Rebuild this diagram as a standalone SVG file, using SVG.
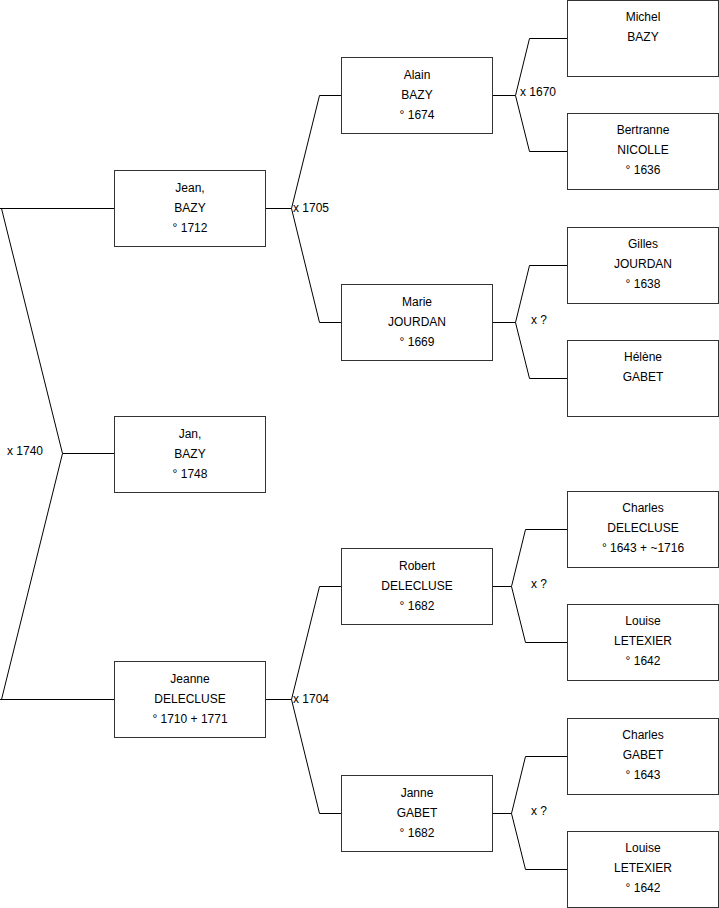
<svg xmlns="http://www.w3.org/2000/svg" width="719" height="908" viewBox="0 0 719 908">
<style>
.box{fill:#fff;stroke:#333;stroke-width:1}
.ln{fill:none;stroke:#000;stroke-width:1}
text{font-family:"Liberation Sans",Arial,sans-serif;font-size:12px;fill:#000}
.c{text-anchor:middle}
</style>
<rect width="719" height="908" fill="#fff"/>
<g id="connectors">
<path class="ln" d="M0,208.5 H114 M1.5,208.5 L62.5,453.5 L1.5,699.5 M0,699.5 H114 M62.5,453.5 H114"/>
<path class="ln" d="M265,208.5 H291.5 M319.5,95.5 L291.5,208.5 L319.5,322.5 M319.5,95.5 H341 M319.5,322.5 H341"/>
<path class="ln" d="M265,699.5 H291.5 M319.5,586.5 L291.5,699.5 L319.5,813.5 M319.5,586.5 H341 M319.5,813.5 H341"/>
<path class="ln" d="M492,95.5 H515.5 M529.5,38.5 L515.5,95.5 L529.5,151.5 M529.5,38.5 H567 M529.5,151.5 H567"/>
<path class="ln" d="M492,322.5 H515.5 M529.5,265.5 L515.5,322.5 L529.5,378.5 M529.5,265.5 H567 M529.5,378.5 H567"/>
<path class="ln" d="M492,586.5 H511.5 M525.5,529.5 L511.5,586.5 L525.5,642.5 M525.5,529.5 H567 M525.5,642.5 H567"/>
<path class="ln" d="M492,813.5 H511.5 M525.5,756.5 L511.5,813.5 L525.5,869.5 M525.5,756.5 H567 M525.5,869.5 H567"/>
<text x="7" y="455">x 1740</text>
<text x="293" y="212">x 1705</text>
<text x="293" y="703">x 1704</text>
<text x="520" y="96">x 1670</text>
<text x="531" y="324">x ?</text>
<text x="531" y="588">x ?</text>
<text x="531" y="815">x ?</text>
</g>
<g id="jean"><rect class="box" x="114.5" y="170.5" width="151" height="76"/><text class="c" x="190" y="192">Jean,</text><text class="c" x="190" y="212">BAZY</text><text class="c" x="190" y="232">° 1712</text></g>
<g id="jan"><rect class="box" x="114.5" y="416.5" width="151" height="76"/><text class="c" x="190" y="438">Jan,</text><text class="c" x="190" y="458">BAZY</text><text class="c" x="190" y="478">° 1748</text></g>
<g id="jeanne"><rect class="box" x="114.5" y="661.5" width="151" height="76"/><text class="c" x="190" y="683">Jeanne</text><text class="c" x="190" y="703">DELECLUSE</text><text class="c" x="190" y="723">° 1710 + 1771</text></g>
<g id="alain"><rect class="box" x="341.5" y="57.5" width="151" height="76"/><text class="c" x="417" y="79">Alain</text><text class="c" x="417" y="99">BAZY</text><text class="c" x="417" y="119">° 1674</text></g>
<g id="marie"><rect class="box" x="341.5" y="284.5" width="151" height="76"/><text class="c" x="417" y="306">Marie</text><text class="c" x="417" y="326">JOURDAN</text><text class="c" x="417" y="346">° 1669</text></g>
<g id="robert"><rect class="box" x="341.5" y="548.5" width="151" height="76"/><text class="c" x="417" y="570">Robert</text><text class="c" x="417" y="590">DELECLUSE</text><text class="c" x="417" y="610">° 1682</text></g>
<g id="janne"><rect class="box" x="341.5" y="775.5" width="151" height="76"/><text class="c" x="417" y="797">Janne</text><text class="c" x="417" y="817">GABET</text><text class="c" x="417" y="837">° 1682</text></g>
<g id="michel"><rect class="box" x="567.5" y="0.5" width="151" height="76"/><text class="c" x="643" y="21">Michel</text><text class="c" x="643" y="41">BAZY</text></g>
<g id="bertranne"><rect class="box" x="567.5" y="113.5" width="151" height="76"/><text class="c" x="643" y="134">Bertranne</text><text class="c" x="643" y="154">NICOLLE</text><text class="c" x="643" y="174">° 1636</text></g>
<g id="gilles"><rect class="box" x="567.5" y="227.5" width="151" height="76"/><text class="c" x="643" y="248">Gilles</text><text class="c" x="643" y="268">JOURDAN</text><text class="c" x="643" y="288">° 1638</text></g>
<g id="helene"><rect class="box" x="567.5" y="340.5" width="151" height="76"/><text class="c" x="643" y="361">Hélène</text><text class="c" x="643" y="381">GABET</text></g>
<g id="charles-delecluse"><rect class="box" x="567.5" y="491.5" width="151" height="76"/><text class="c" x="643" y="512">Charles</text><text class="c" x="643" y="532">DELECLUSE</text><text class="c" x="643" y="552">° 1643 + ~1716</text></g>
<g id="louise-1"><rect class="box" x="567.5" y="604.5" width="151" height="76"/><text class="c" x="643" y="625">Louise</text><text class="c" x="643" y="645">LETEXIER</text><text class="c" x="643" y="665">° 1642</text></g>
<g id="charles-gabet"><rect class="box" x="567.5" y="718.5" width="151" height="76"/><text class="c" x="643" y="739">Charles</text><text class="c" x="643" y="759">GABET</text><text class="c" x="643" y="779">° 1643</text></g>
<g id="louise-2"><rect class="box" x="567.5" y="831.5" width="151" height="76"/><text class="c" x="643" y="852">Louise</text><text class="c" x="643" y="872">LETEXIER</text><text class="c" x="643" y="892">° 1642</text></g>
</svg>
